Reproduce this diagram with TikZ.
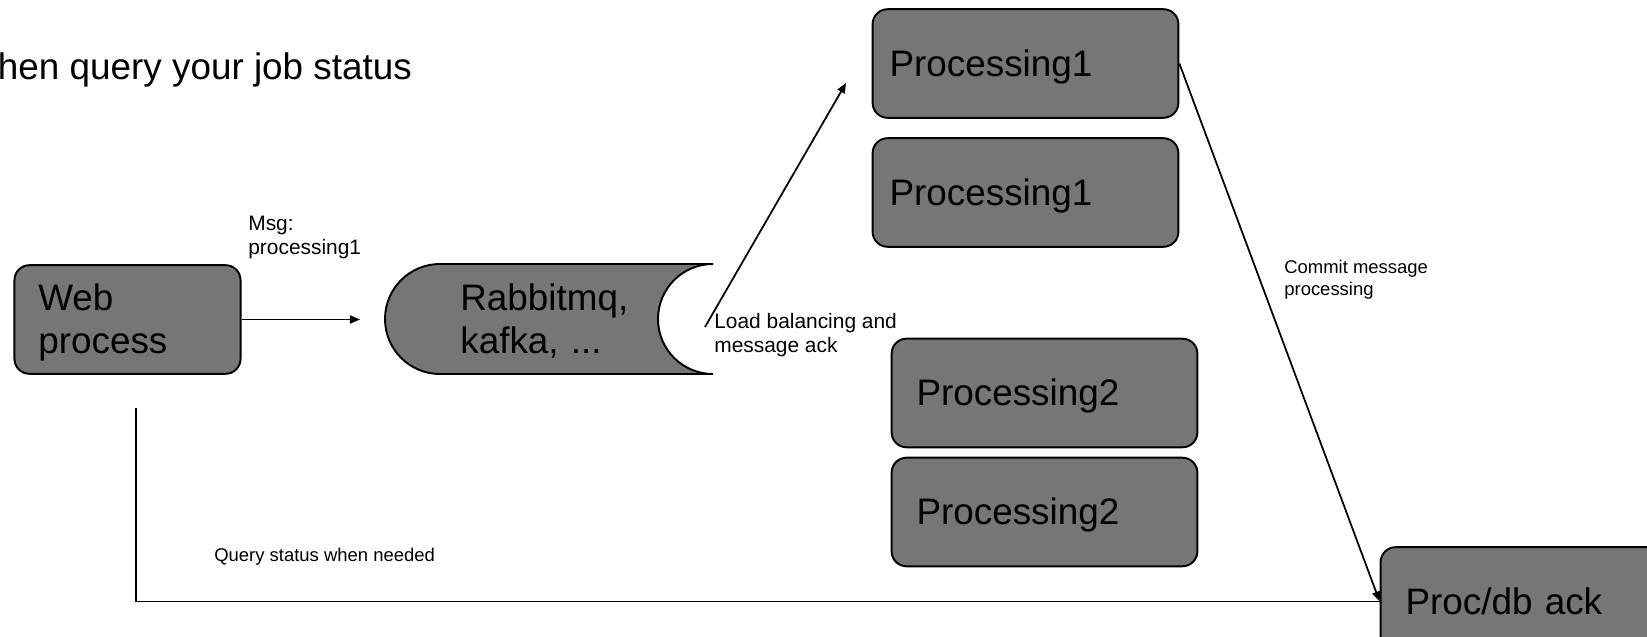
\documentclass[tikz,border=0pt]{standalone}
\usepackage{fontspec}
\setmainfont{Liberation Sans}
\usetikzlibrary{arrows.meta}
\definecolor{boxgray}{RGB}{118,118,118}
\newcommand{\diagbig}{\fontsize{20.98pt}{24.4pt}\selectfont}
\newcommand{\diaglabel}{\fontsize{11.9pt}{13.6pt}\selectfont}
\newcommand{\diagsmall}{\fontsize{10.5pt}{12.1pt}\selectfont}
\newcommand{\diagasc}{\rule{0pt}{18.99pt}}
\newcommand{\diagdsc}{\rule[-4.45pt]{0pt}{4.45pt}}
\begin{document}
\begin{tikzpicture}[x=0.02cm,y=0.02cm,
  gbox/.style={draw=black, line width=1.1pt, fill=boxgray, rounded corners=8.5pt,
    minimum height=61.8pt, inner ysep=0pt, align=left, font=\diagbig},
  lbl/.style={inner sep=0pt, align=left},
  conn/.style={line width=1pt, draw=black},
  arr/.style={conn, -{Triangle[length=5.7pt,width=4.6pt]}}
]
\useasboundingbox (0,0) rectangle (1647,636);
\clip (0,0) rectangle (1647,636);

% title fragment
\node[lbl, font=\diagbig, anchor=base west] (title) at (-2.4,556) {hen query your job status};

% boxes
\node[gbox, text width=101.48pt, inner xsep=13.61pt] (web) at (127.5,316.5) {\diagasc Web\\process\diagdsc};
\node[gbox, text width=154.77pt, inner xsep=9.64pt] (p1a) at (1025.5,572.5) {\diagasc Processing1\diagdsc};
\node[gbox, text width=154.77pt, inner xsep=9.64pt] (p1b) at (1025.5,443.5) {\diagasc Processing1\diagdsc};
\node[gbox, text width=145.70pt, inner xsep=14.17pt] (p2a) at (1044.5,243) {\diagasc Processing2\diagdsc};
\node[gbox, text width=145.70pt, inner xsep=14.17pt] (p2b) at (1044.5,124) {\diagasc Processing2\diagdsc};
\node[gbox, text width=145.70pt, inner xsep=14.17pt] (proc) at (1533.5,34.5) {\diagasc Proc/db ack\diagdsc};

% message queue shape
\draw[line width=1.1pt, fill=boxgray] (713,372) -- (440,372)
  arc[start angle=90, end angle=270, radius=55] -- (713,262)
  arc[start angle=270, end angle=90, radius=55] -- cycle;
\node[lbl, align=left, font=\diagbig, text width=100.91pt, inner xsep=42.52pt,
  minimum height=62.36pt] (mq) at (549,317) {\diagasc Rabbitmq,\\kafka, ...\diagdsc};

% connectors
\coordinate (msgtip) at (360,316.5);
\draw[arr] (web.east) -- (msgtip);
\coordinate (lbstart) at (705,309);
\coordinate (lbtip) at (846,553);
\draw[arr] (lbstart) -- (lbtip);
\draw[arr] (p1a.east) -- (proc.west);
\coordinate (qstart) at (136,228);
\draw[conn] (qstart) |- (proc.west);

% labels
\node[lbl, font=\diaglabel, anchor=west] (msg) at (248,398.4) {Msg:\\processing1};
\node[lbl, font=\diaglabel, anchor=west] (lb) at (714,300.5) {Load balancing and\\message ack};
\node[lbl, font=\diagsmall, anchor=west] (commit) at (1284,356.3) {Commit message\\processing};
\node[lbl, font=\diagsmall, anchor=base west] (query) at (214,74) {Query status when needed};
\end{tikzpicture}
\end{document}
